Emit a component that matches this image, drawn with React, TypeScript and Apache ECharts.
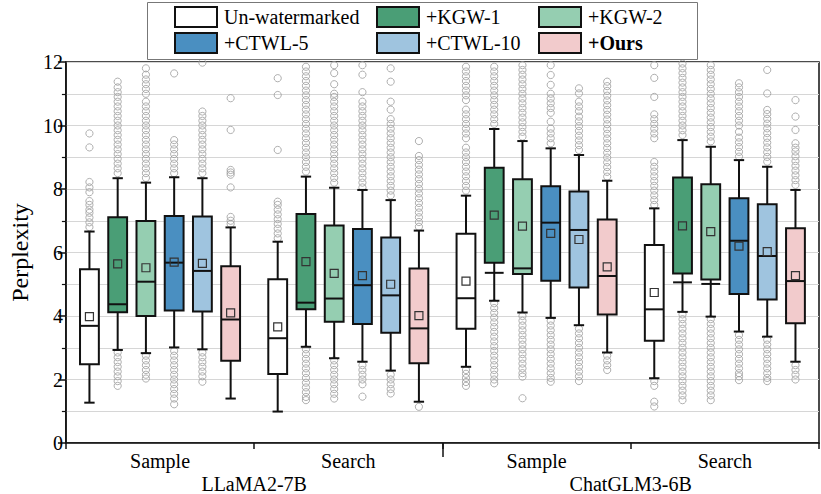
import React, { useEffect, useRef } from 'react';
import * as echarts from 'echarts';

const categories = ['Sample', 'Search', 'Sample', 'Search'];
const models = ['LLaMA2-7B', 'ChatGLM3-6B'];
const methods = ['Un-watermarked', '+KGW-1', '+KGW-2', '+CTWL-5', '+CTWL-10', '+Ours'];
const colors = ['#ffffff', '#4a9e76', '#95ceb1', '#4a8fc1', '#9fc4df', '#f2cbcc'];

// [method][group]
const whiskerMin = [
  [1.27, 0.99, 2.40, 2.04],
  [2.93, 3.03, 4.48, 4.13],
  [2.83, 2.67, 4.11, 3.98],
  [3.01, 2.56, 3.94, 3.51],
  [2.95, 2.28, 3.71, 3.35],
  [1.40, 1.30, 2.85, 2.56],
];
const boxLow = [
  [2.48, 2.17, 3.60, 3.22],
  [4.12, 4.21, 5.68, 5.34],
  [4.00, 3.82, 5.32, 5.15],
  [4.17, 3.75, 5.11, 4.69],
  [4.14, 3.47, 4.90, 4.52],
  [2.59, 2.51, 4.05, 3.77],
];
const median = [
  [3.69, 3.30, 4.56, 4.21],
  [4.37, 4.42, 5.36, 5.06],
  [5.08, 4.55, 5.50, 5.01],
  [5.68, 4.97, 6.94, 6.37],
  [5.42, 4.65, 6.71, 5.89],
  [3.89, 3.61, 5.26, 5.10],
];
const boxHigh = [
  [5.47, 5.16, 6.59, 6.24],
  [7.11, 7.21, 8.67, 8.36],
  [6.99, 6.85, 8.31, 8.15],
  [7.15, 6.74, 8.09, 7.71],
  [7.13, 6.47, 7.92, 7.52],
  [5.57, 5.50, 7.04, 6.76],
];
const whiskerMax = [
  [6.66, 6.34, 7.79, 7.39],
  [8.34, 8.39, 9.89, 9.54],
  [8.20, 8.04, 9.51, 9.33],
  [8.37, 7.97, 9.28, 8.91],
  [8.34, 7.65, 9.07, 8.70],
  [6.79, 6.69, 8.26, 7.97],
];
const mean = [
  [3.98, 3.66, 5.10, 4.74],
  [5.64, 5.71, 7.18, 6.84],
  [5.52, 5.34, 6.83, 6.66],
  [5.70, 5.27, 6.60, 6.20],
  [5.66, 5.00, 6.41, 6.03],
  [4.10, 4.01, 5.55, 5.27],
];

const outUnwm = [
  [6.8, 6.95, 7.1, 7.25, 7.35, 7.5, 7.62, 7.9, 8.05, 8.22, 9.31, 9.75],
  [6.45, 6.6, 6.75, 6.9, 7.05, 7.2, 7.35, 7.5, 7.6, 9.23, 10.96, 11.49],
  [7.95, 8.1, 8.25, 8.4, 8.55, 8.7, 8.85, 9.0, 9.15, 9.3, 9.6, 9.75, 9.9, 10.05, 10.2, 10.35, 10.5, 10.8, 10.95, 11.1, 11.25, 11.4, 11.55, 11.7, 11.85,
    2.3, 2.18, 2.05, 1.92, 1.8],
  [7.5, 7.65, 7.8, 7.95, 8.1, 8.25, 8.4, 8.55, 8.7, 8.85, 9.6, 9.75, 9.9, 10.05, 10.2, 10.35, 10.9, 11.5, 11.9,
    1.95, 1.8, 1.3, 1.15],
];
const outKgw1 = [
  [8.5, 8.65, 8.8, 8.95, 9.1, 9.25, 9.4, 9.55, 9.7, 9.85, 10.0, 10.15, 10.3, 10.45, 10.6, 10.75, 10.9, 11.05, 11.2, 11.38,
    2.85, 2.7, 2.55, 2.4, 2.25, 2.1, 1.95, 1.8],
  [8.55, 8.7, 8.85, 9.0, 9.15, 9.3, 9.45, 9.6, 9.75, 9.9, 10.05, 10.2, 10.35, 10.5, 10.65, 10.8, 10.95, 11.1, 11.25, 11.4, 11.55, 11.7, 11.85,
    2.95, 2.8, 2.65, 2.5, 2.35, 2.2, 2.05, 1.9, 1.75, 1.6, 1.45, 1.35],
  [10.05, 10.2, 10.35, 10.5, 10.65, 10.8, 10.95, 11.1, 11.25, 11.4, 11.55, 11.7, 11.85,
    4.4, 4.25, 4.1, 3.95, 3.8, 3.65, 3.5, 3.35, 3.2, 3.05, 2.9, 2.75, 2.6, 2.45, 2.3, 2.15, 2.0, 1.88],
  [9.7, 9.85, 10.0, 10.15, 10.3, 10.45, 10.6, 10.75, 10.9, 11.05, 11.2, 11.35, 11.5, 11.65, 11.8, 11.95,
    4.05, 3.9, 3.75, 3.6, 3.45, 3.3, 3.15, 3.0, 2.85, 2.7, 2.55, 2.4, 2.25, 2.1, 1.95, 1.8, 1.65, 1.5, 1.35],
];
const outKgw2 = [
  [8.35, 8.5, 8.65, 8.8, 8.95, 9.1, 9.25, 9.4, 9.55, 9.7, 9.85, 10.0, 10.15, 10.3, 10.45, 10.6, 10.75, 11.0, 11.15, 11.3, 11.45, 11.6, 11.8,
    2.75, 2.6, 2.45, 2.3, 2.15, 2.03],
  [8.2, 8.35, 8.5, 8.65, 8.8, 8.95, 9.1, 9.25, 9.4, 9.55, 9.7, 9.85, 10.0, 10.15, 10.3, 10.45, 10.6, 10.75, 10.9, 11.0, 11.3, 11.65, 11.9,
    2.6, 2.45, 2.3, 2.15, 2.0, 1.85, 1.7, 1.55, 1.4],
  [9.65, 9.8, 9.95, 10.1, 10.25, 10.4, 10.55, 10.7, 10.85, 11.0, 11.15, 11.3, 11.45, 11.6, 11.75, 11.9,
    4.0, 3.85, 3.7, 3.55, 3.4, 3.25, 3.1, 2.95, 2.8, 2.65, 2.5, 2.35, 2.2, 2.09, 1.41],
  [9.5, 9.65, 9.8, 9.95, 10.1, 10.25, 10.4, 10.55, 10.7, 10.85, 11.0, 11.15, 11.3, 11.45, 11.6, 11.75, 11.9,
    3.9, 3.75, 3.6, 3.45, 3.3, 3.15, 3.0, 2.85, 2.7, 2.55, 2.4, 2.25, 2.1, 1.95, 1.8, 1.65, 1.5, 1.35],
];
const outCtwl5 = [
  [8.5, 8.65, 8.8, 8.95, 9.1, 9.25, 9.4, 9.54, 11.64,
    2.9, 2.75, 2.6, 2.45, 2.3, 2.15, 2.0, 1.85, 1.7, 1.55, 1.4, 1.22],
  [8.05, 8.2, 8.35, 8.5, 8.65, 8.8, 8.95, 9.1, 9.25, 9.4, 9.55, 9.7, 9.85, 10.0, 10.15, 10.3, 10.45, 10.6, 10.75, 11.05, 11.6, 11.9,
    2.45, 2.3, 2.15, 2.0, 1.85, 1.46],
  [9.44, 9.6, 9.75, 9.9, 10.12, 10.4, 10.55, 10.7, 10.85, 11.0, 11.28, 11.59, 11.9,
    3.85, 3.7, 3.55, 3.4, 3.25, 3.1, 2.95, 2.8, 2.65, 2.5, 2.35, 2.2, 2.05, 1.93],
  [9.02, 9.17, 9.32, 9.47, 9.62, 9.8, 10.0, 10.15, 10.3, 10.45, 10.6, 10.75, 10.9, 11.05, 11.2, 11.33,
    3.4, 3.25, 3.1, 2.95, 2.8, 2.65, 2.5, 2.35, 2.2, 2.1, 1.98],
];
const outCtwl10 = [
  [8.5, 8.65, 8.8, 8.95, 9.1, 9.25, 9.4, 9.55, 9.7, 9.85, 10.0, 10.15, 10.3, 10.44, 11.98,
    2.85, 2.7, 2.55, 2.4, 2.25, 2.1, 1.93],
  [7.8, 7.95, 8.1, 8.25, 8.4, 8.55, 8.7, 8.85, 9.0, 9.15, 9.3, 9.45, 9.6, 9.75, 9.9, 10.05, 10.2, 10.5, 10.75, 11.38, 11.8,
    2.15, 2.0, 1.85, 1.7, 1.56],
  [9.23, 9.38, 9.53, 9.68, 9.83, 9.98, 10.13, 10.28, 10.45, 10.6, 10.75, 11.01, 11.17,
    3.6, 3.45, 3.3, 3.15, 3.0, 2.85, 2.7, 2.55, 2.4, 2.25, 2.1, 1.95],
  [8.86, 9.01, 9.16, 9.31, 9.46, 9.61, 9.76, 9.91, 10.06, 10.21, 10.36, 10.49, 11.01, 11.75,
    3.25, 3.1, 2.95, 2.8, 2.65, 2.5, 2.35, 2.2, 2.05, 1.95],
];
const outOurs = [
  [6.9, 7.0, 7.12, 8.05, 8.45, 8.52, 8.6, 9.86, 10.86],
  [6.81, 6.96, 7.11, 7.26, 7.41, 7.56, 7.71, 7.86, 8.01, 8.16, 8.31, 8.46, 8.61, 8.76, 8.91, 9.04, 9.51,
    1.14],
  [8.39, 8.54, 8.69, 8.84, 8.99, 9.14, 9.29, 9.44, 9.59, 9.74, 9.89, 10.04, 10.19, 10.34, 10.49, 10.64, 10.79, 10.94, 11.09, 11.24, 11.38,
    2.75, 2.6, 2.45, 2.3],
  [8.13, 8.28, 8.43, 8.58, 8.73, 8.88, 9.03, 9.18, 9.3, 9.44, 9.86, 10.28, 10.8,
    2.45, 2.3, 2.15, 2.0],
];
const outliers = [outUnwm, outKgw1, outKgw2, outCtwl5, outCtwl10, outOurs];

const FONT = "'Liberation Serif', 'Times New Roman', serif";

function buildLegend() {
  const els: any[] = [
    { type: 'rect', z: 10, shape: { x: 147.5, y: 2.5, width: 550, height: 57 }, style: { fill: '#fff', stroke: '#777', lineWidth: 1 } },
  ];
  const colX = [175, 377, 539];
  const rowY = [7, 33];
  methods.forEach((name, i) => {
    const r = Math.floor(i / 3);
    const c = i % 3;
    els.push({
      type: 'rect',
      z: 11,
      shape: { x: colX[c], y: rowY[r], width: 42, height: 20 },
      style: { fill: colors[i], stroke: '#111', lineWidth: 2 },
    });
    els.push({
      type: 'text',
      z: 11,
      x: colX[c] + 49,
      y: rowY[r] + 10,
      style: {
        text: name,
        font: `${name === '+Ours' ? 'bold ' : ''}20px ${FONT}`,
        fill: '#000',
        verticalAlign: 'middle',
      },
    });
  });
  return els;
}

export default function App() {
  const ref = useRef<HTMLDivElement>(null);
  useEffect(() => {
    if (!ref.current) return;
    const chart = echarts.init(ref.current, undefined, { renderer: 'svg' });
    const series = methods.map((name, si) => ({
      type: 'custom',
      name,
      xAxisIndex: 0,
      yAxisIndex: 0,
      data: categories.map((_, g) => [g, whiskerMin[si][g], boxLow[si][g], median[si][g], boxHigh[si][g], whiskerMax[si][g], mean[si][g]]),
      encode: { x: 0, y: [1, 2, 3, 4, 5, 6] },
      renderItem: (params: any, api: any) => {
        const g = params.dataIndex;
        const band = api.size([1, 0])[0];
        const cx = api.coord([g, 0])[0] + (si - 2.5) * band * 0.15;
        const Y = (v: number) => api.coord([g, v])[1];
        const bw = band * 0.1;
        const cw = band * 0.055;
        const children: any[] = [];
        outliers[si][g].forEach((v: number) => {
          children.push({ type: 'circle', shape: { cx, cy: Y(v), r: 3.6 }, style: { fill: 'none', stroke: '#9a9a9a', lineWidth: 0.8 } });
        });
        const lineStyle = { stroke: '#111', lineWidth: 2 };
        children.push({ type: 'line', shape: { x1: cx, y1: Y(api.value(5)), x2: cx, y2: Y(api.value(1)) }, style: lineStyle });
        children.push({ type: 'line', shape: { x1: cx - cw / 2, y1: Y(api.value(5)), x2: cx + cw / 2, y2: Y(api.value(5)) }, style: lineStyle });
        children.push({ type: 'line', shape: { x1: cx - cw / 2, y1: Y(api.value(1)), x2: cx + cw / 2, y2: Y(api.value(1)) }, style: lineStyle });
        const yTop = Y(api.value(4));
        const yBot = Y(api.value(2));
        children.push({ type: 'rect', shape: { x: cx - bw / 2, y: yTop, width: bw, height: yBot - yTop }, style: { fill: colors[si], stroke: '#111', lineWidth: 2 } });
        children.push({ type: 'line', shape: { x1: cx - bw / 2, y1: Y(api.value(3)), x2: cx + bw / 2, y2: Y(api.value(3)) }, style: lineStyle });
        const my = Y(api.value(6));
        children.push({ type: 'rect', shape: { x: cx - 4, y: my - 4, width: 8, height: 8 }, style: { fill: 'none', stroke: '#333', lineWidth: 1.2 } });
        return { type: 'group', children };
      },
    }));
    chart.setOption({
      animation: false,
      backgroundColor: '#fff',
      grid: { left: 62, right: 2, top: 62, bottom: 51, show: true, borderColor: '#111', borderWidth: 1.5, backgroundColor: 'transparent' },
      graphic: buildLegend(),
      xAxis: [
        {
          type: 'category',
          data: categories,
          position: 'bottom',
          axisLine: { show: true, lineStyle: { color: '#111', width: 1.5 } },
          axisTick: { show: true, length: 6, lineStyle: { color: '#111', width: 1.5 } },
          axisLabel: { color: '#000', fontFamily: FONT, fontSize: 20, margin: 8 },
          splitLine: { show: false },
        },
        {
          type: 'category',
          data: models,
          position: 'bottom',
          axisLine: { show: false },
          axisTick: { show: false },
          axisLabel: { color: '#000', fontFamily: FONT, fontSize: 20, margin: 31 },
          splitLine: { show: false },
        },
        {
          type: 'category',
          data: ['a', 'b', 'c'],
          boundaryGap: false,
          position: 'bottom',
          axisLine: { show: false },
          axisTick: { show: true, length: 14, interval: (i: number) => i === 1, lineStyle: { color: '#111', width: 1.5 } },
          axisLabel: { show: false },
          splitLine: { show: false },
        },
      ],
      yAxis: {
        type: 'value',
        min: 0,
        max: 12,
        interval: 2,
        name: 'Perplexity',
        nameLocation: 'middle',
        nameGap: 30,
        nameRotate: 90,
        nameTextStyle: { color: '#000', fontFamily: FONT, fontSize: 24 },
        axisLine: { show: true, lineStyle: { color: '#111', width: 1.5 } },
        axisTick: { show: true, length: 8, lineStyle: { color: '#111', width: 1.5 } },
        minorTick: { show: true, splitNumber: 2, length: 4, lineStyle: { color: '#111', width: 1.2 } },
        axisLabel: { color: '#000', fontFamily: FONT, fontSize: 20, margin: 3 },
        splitLine: { show: true, lineStyle: { color: '#d6d6d6', width: 1 } },
        minorSplitLine: { show: true, lineStyle: { color: '#d6d6d6', width: 1 } },
      },
      series,
    });
    return () => chart.dispose();
  }, []);
  return <div ref={ref} style={{ position: 'fixed', left: 0, top: 0, width: 821, height: 494 }} />;
}
